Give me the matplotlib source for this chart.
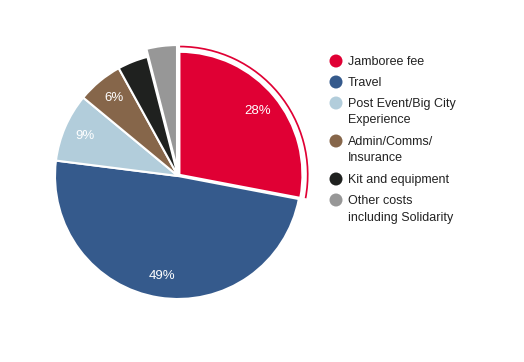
import matplotlib.pyplot as plt
from matplotlib.patches import Wedge, Ellipse

plt.rcParams['font.family'] = ['Liberation Sans', 'DejaVu Sans']

# data
labels = ['Jamboree fee', 'Travel', 'Post Event/Big City\nExperience',
          'Admin/Comms/\nInsurance', 'Kit and equipment',
          'Other costs\nincluding Solidarity']
values = [28, 49, 9, 6, 4, 4]
colors = ['#e00034', '#355a8c', '#b2cddb', '#86664a', '#1f211f', '#979797']
explode = [0.015, 0, 0, 0, 0, 0.065]

fig = plt.figure(figsize=(5.24, 3.62), dpi=100)
W, H = 524, 362
cx, cy, half = 178, 176, 140
ax = fig.add_axes([(cx - half) / W, (H - cy - half) / H, 2 * half / W, 2 * half / H])
lim = half / 123.0

wedges, texts, autotexts = ax.pie(
    values, colors=colors, explode=explode, startangle=90, counterclock=False,
    autopct=lambda p: '%d%%' % round(p) if p > 5 else '', pctdistance=0.82,
    wedgeprops=dict(edgecolor='white', linewidth=1.5))
for t in autotexts:
    t.set_color('white')
    t.set_fontsize(9.5)

# hover halo ring around the first slice
w0 = wedges[0]
ax.add_patch(Wedge((w0.center[0], w0.center[1]), 1.05, w0.theta1 + 0.3, w0.theta2 - 0.3,
                   width=0.014, facecolor=colors[0], edgecolor='none'))

ax.set_xlim(-lim, lim)
ax.set_ylim(-lim, lim)
ax.set_aspect('equal')
ax.axis('off')

# legend
y = 61
for lab, col in zip(labels, colors):
    fig.text(348 / W, 1 - (y - 5) / H, lab, fontsize=9, color='#222222',
             va='top', ha='left', linespacing=1.5)
    fig.add_artist(Ellipse((336 / W, 1 - y / H), 13 / W, 13 / H,
                           transform=fig.transFigure, facecolor=col, edgecolor='none'))
    y += 21 + 17 * lab.count('\n')

fig.savefig('out.png', dpi=100)
